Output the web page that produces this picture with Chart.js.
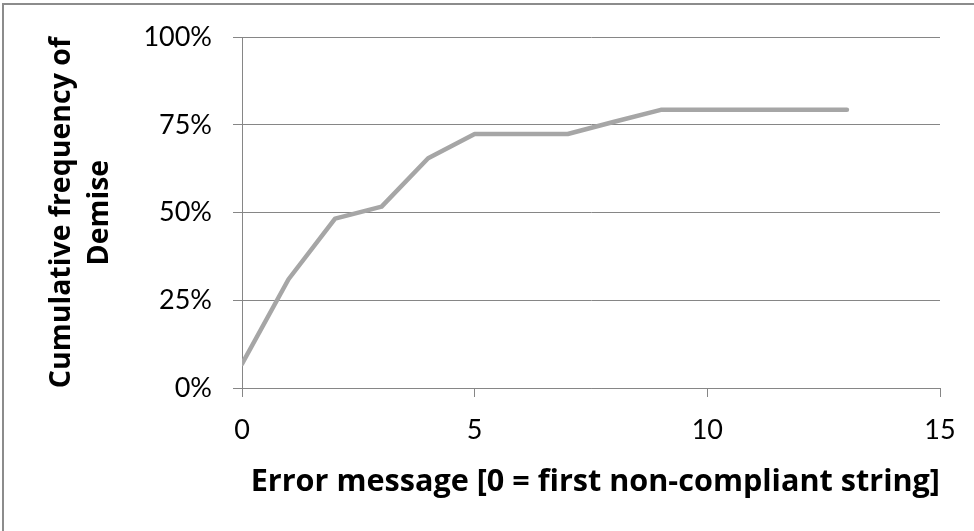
<!DOCTYPE html>
<html>
<head>
<meta charset="utf-8">
<script src="https://cdn.jsdelivr.net/npm/chart.js@4"></script>
<style>
  body { margin: 0; background: #fff; overflow: hidden; }
  .frame {
    position: absolute; left: 2px; top: 3px; width: 1000px; height: 600px;
    border-left: 2px solid #8c8c8c; border-top: 2px solid #8c8c8c;
  }
  #chart { position: absolute; left: 0; top: 0; }
</style>
</head>
<body>
<div class="frame"></div>
<canvas id="chart" width="974" height="531"></canvas>
<script>
// Error message index (0 = first non-compliant string)
const errorIndex = [0, 1, 2, 3, 4, 5, 6, 7, 8, 9, 10, 11, 12, 13];
// cumulative frequency of demise, in percent
const cumulativePct = [6.9, 31.0, 48.3, 51.7, 65.5, 72.4, 72.4, 72.4, 75.9, 79.3, 79.3, 79.3, 79.3, 79.3];
const xTicks = [0, 5, 10, 15];
const yTicks = [0, 25, 50, 75, 100];

const axisGrey = '#868686';

const points = errorIndex.map((x, i) => ({ x: x, y: cumulativePct[i] }));

new Chart(document.getElementById('chart'), {
  type: 'line',
  data: {
    datasets: [{
      data: points,
      borderColor: '#a6a6a6',
      borderWidth: 4.5,
      borderCapStyle: 'round',
      borderJoinStyle: 'round',
      pointRadius: 0,
      tension: 0,
      fill: false
    }]
  },
  options: {
    responsive: false,
    animation: false,
    layout: { padding: { left: 0, top: 37, right: 34, bottom: 0 } },
    plugins: { legend: { display: false }, tooltip: { enabled: false } },
    scales: {
      x: {
        type: 'linear',
        min: xTicks[0],
        max: xTicks[xTicks.length - 1],
        afterBuildTicks: s => { s.ticks = xTicks.map(v => ({ value: v })); },
        afterFit: s => { s.height = 143; },
        grid: { drawOnChartArea: false, drawTicks: true, tickLength: 9, color: axisGrey },
        border: { color: axisGrey, width: 1 },
        ticks: { color: '#000', padding: 17, font: { family: 'Lato', size: 27 } },
        title: {
          display: true,
          text: 'Error message [0 = first non-compliant string]',
          color: '#000',
          align: 'end',
          padding: { top: 0, bottom: 30 },
          font: { family: 'Open Sans', size: 30.6, weight: 'bold', lineHeight: 1.2 }
        }
      },
      y: {
        min: yTicks[0],
        max: yTicks[yTicks.length - 1],
        afterBuildTicks: s => { s.ticks = yTicks.map(v => ({ value: v })); },
        afterFit: s => { s.width = 242; },
        grid: { color: axisGrey, lineWidth: 1, tickLength: 9 },
        border: { color: axisGrey, width: 1 },
        ticks: {
          color: '#000', padding: 21,
          font: { family: 'Lato', size: 27 },
          callback: v => v + '%'
        },
        title: {
          display: true,
          text: ['Cumulative frequency of', 'Demise'],
          color: '#000',
          padding: { top: 43, bottom: 0 },
          font: { family: 'Open Sans', size: 28.5, weight: 'bold', lineHeight: 1.33 }
        }
      }
    }
  }
});
</script>
</body>
</html>
